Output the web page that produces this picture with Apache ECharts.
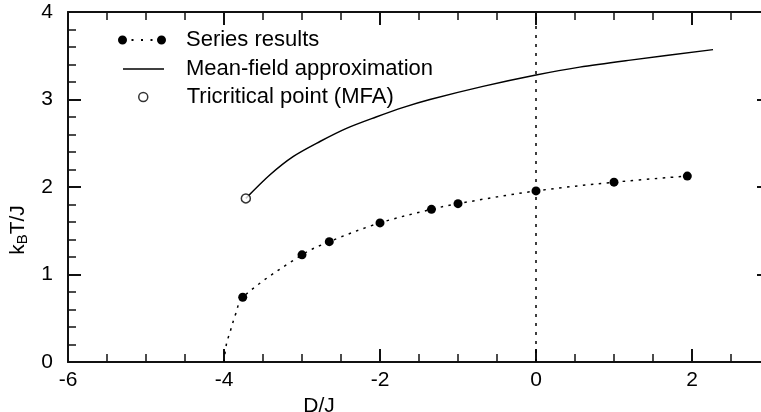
<!DOCTYPE html>
<html>
<head>
<meta charset="utf-8">
<script src="https://cdn.jsdelivr.net/npm/echarts@6/dist/echarts.min.js"></script>
<style>
  html, body { margin: 0; padding: 0; background: #fff; }
  #chart { width: 761px; height: 412px; }
</style>
</head>
<body>
<div id="chart"></div>
<script>
// values: D/J on x, k_B T/J on y
const seriesD = [-3.76, -3.0, -2.65, -2.0, -1.34, -1.0, 0.0, 1.0, 1.94];
const seriesT = [0.74, 1.225, 1.375, 1.59, 1.745, 1.81, 1.955, 2.055, 2.125];
// dotted guide below the first point, down to T = 0 at D/J = -4
const leadD = [-4.0, -3.97, -3.92, -3.85];
const leadT = [0.0, 0.2, 0.35, 0.55];
const mfaD = [-3.72, -3.41, -3.11, -2.77, -2.43, -2.05, -1.70, -1.36, -0.68, 0.0, 0.56, 1.21, 2.27];
const mfaT = [1.87, 2.14, 2.35, 2.52, 2.67, 2.80, 2.91, 3.0, 3.15, 3.28, 3.37, 3.45, 3.57];
const tricritical = [-3.72, 1.87];
const xTicks = [-6, -4, -2, 0, 2];
const yTicks = [0, 1, 2, 3, 4];

const font = "'Liberation Sans', Arial, sans-serif";
const ink = "#111";

function frameX(position, extra) {
  return {
    type: "value", position, min: -6, max: 3, interval: 2,
    axisLine: { show: true, onZero: false, lineStyle: { color: ink, width: 2 } },
    axisTick: { show: true, inside: true, length: 13, lineStyle: { color: ink, width: 2 } },
    minorTick: { show: true, splitNumber: 4, length: 8, lineStyle: { color: ink, width: 1.5 } },
    splitLine: { show: false }, minorSplitLine: { show: false },
    axisLabel: { show: false },
    ...extra,
  };
}

function frameY(position, extra) {
  return {
    type: "value", position, min: 0, max: 4, interval: 1,
    axisLine: { show: true, onZero: false, lineStyle: { color: ink, width: 2 } },
    axisTick: { show: true, inside: true, length: 13, lineStyle: { color: ink, width: 2 } },
    minorTick: { show: true, splitNumber: 5, length: 8, lineStyle: { color: ink, width: 1.5 } },
    splitLine: { show: false }, minorSplitLine: { show: false },
    axisLabel: { show: false },
    ...extra,
  };
}

const labelStyle = { fontSize: 21, color: "#000", fontFamily: font };
const legendText = { fontSize: 22, color: "#000", fontFamily: font, lineHeight: 22 };
const dotIcon = "path://M0,4.5 A4.5,4.5 0 1,1 9,4.5 A4.5,4.5 0 1,1 0,4.5 Z M39,4.5 A4.5,4.5 0 1,1 48,4.5 A4.5,4.5 0 1,1 39,4.5 Z M13.5,3.5 h2 v2 h-2 Z M23,3.5 h2 v2 h-2 Z M32.5,3.5 h2 v2 h-2 Z";

const chart = echarts.init(document.getElementById("chart"), null, { renderer: "canvas" });
chart.setOption({
  animation: false,
  backgroundColor: "#fff",
  grid: { left: 68, right: -9, top: 12, bottom: 50, containLabel: false, outerBoundsMode: "none" },
  xAxis: [
    frameX("bottom", {
      axisLabel: { show: true, margin: 8, ...labelStyle, formatter: (v) => (xTicks.includes(v) ? String(v) : "") },
      name: "D/J", nameLocation: "middle", nameGap: 29,
      nameTextStyle: { ...labelStyle, padding: [0, 200, 0, 0] },
    }),
    frameX("top", {}),
  ],
  yAxis: [
    frameY("left", {
      axisLabel: { show: true, margin: 15, ...labelStyle, formatter: (v) => (yTicks.includes(v) ? String(v) : "") },
      name: "{i|k}{s|B}{i|T/J}", nameLocation: "middle", nameGap: 33, nameRotate: 90,
      nameTextStyle: {
        ...labelStyle, padding: [0, 86, 0, 0],
        rich: {
          i: { fontSize: 21, fontFamily: font, color: "#000" },
          s: { fontSize: 15, fontFamily: font, color: "#000", padding: [9, 0, 0, 0], verticalAlign: "bottom" },
        },
      },
    }),
    frameY("right", {}),
  ],
  legend: [
    { data: ["Series results"], left: 118, top: 29, padding: 0, itemWidth: 48, itemHeight: 10, icon: dotIcon,
      selectedMode: false, textStyle: { ...legendText, padding: [0, 0, 0, 15] } },
    { data: ["Mean-field approximation"], left: 123, top: 58, padding: 0, itemWidth: 41, itemHeight: 10,
      icon: "path://M0,0 h40 v1.5 h-40 Z", selectedMode: false, textStyle: { ...legendText, padding: [0, 0, 0, 17] } },
    { data: ["Tricritical point (MFA)"], left: 138, top: 86, padding: 0, itemWidth: 9, itemHeight: 9, icon: "circle",
      itemStyle: { color: "#fff", borderColor: "#000", borderWidth: 1.5 }, selectedMode: false,
      textStyle: { ...legendText, padding: [0, 0, 0, 34] } },
  ],
  series: [
    {
      name: "Series results", type: "line",
      data: [
        ...leadD.map((d, i) => ({ value: [d, leadT[i]], symbol: "none" })),
        ...seriesD.map((d, i) => [d, seriesT[i]]),
      ],
      symbol: "circle", symbolSize: 9, showSymbol: true, smooth: 0.35,
      itemStyle: { color: "#000", borderWidth: 0 },
      lineStyle: { color: "#000", width: 1.5, type: [2.5, 5.5] },
      markLine: {
        silent: true, symbol: "none", label: { show: false },
        lineStyle: { color: "#000", width: 1.5, type: [3, 6] },
        data: [{ xAxis: 0 }],
      },
      z: 3,
    },
    {
      name: "Mean-field approximation", type: "line",
      data: mfaD.map((d, i) => [d, mfaT[i]]),
      symbol: "none", showSymbol: false, smooth: 0.3,
      itemStyle: { color: "#000" },
      lineStyle: { color: "#000", width: 1.5 },
      z: 3,
    },
    {
      name: "Tricritical point (MFA)", type: "scatter",
      data: [tricritical],
      symbol: "circle", symbolSize: 9,
      itemStyle: { color: "#fff", borderColor: "#000", borderWidth: 1.5 },
      z: 5,
    },
  ],
});
</script>
</body>
</html>
